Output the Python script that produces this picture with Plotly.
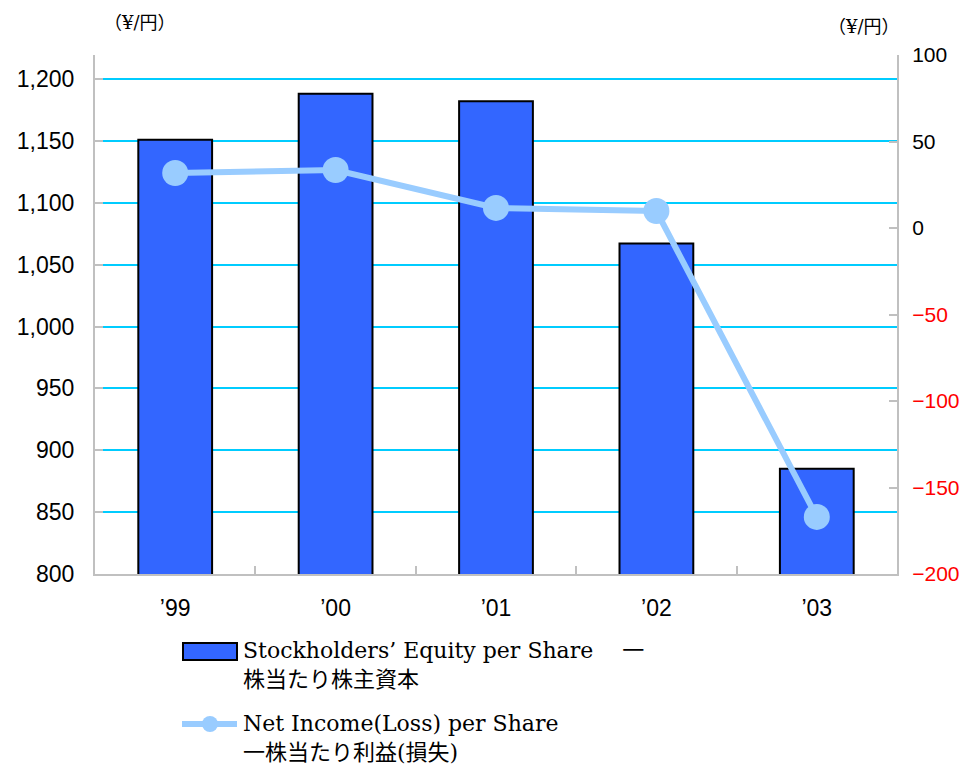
import plotly.graph_objects as go

years = ["’99", "’00", "’01", "’02", "’03"]
equity_per_share = [1151, 1188, 1182, 1067, 885]
net_income_per_share = [31.8, 33.5, 11.6, 9.8, -167]

right_ticks = [100, 50, 0, -50, -100, -150, -200]
right_labels = [str(v) if v >= 0 else f"<span style='color:#ff0000'>−{abs(v)}</span>" for v in right_ticks]

SERIF = "DejaVu Serif, Noto Sans CJK JP, serif"
SANS = "Liberation Sans, Arial, sans-serif"

fig = go.Figure()
fig.add_trace(go.Bar(
    x=years, y=equity_per_share, name="Stockholders’ Equity per Share",
    marker=dict(color="#3366ff", line=dict(color="#000000", width=2)),
    width=0.46, showlegend=False,
))
fig.add_trace(go.Scatter(
    x=years, y=net_income_per_share, yaxis="y2", mode="lines+markers",
    name="Net Income(Loss) per Share",
    line=dict(color="#99ccff", width=6),
    marker=dict(color="#99ccff", size=26),
    showlegend=False,
))

# the page body adds an 8px margin, so the figure is sized 8px smaller
fig.update_layout(
    width=965, height=757,
    margin=dict(l=87, r=76, t=47, b=191),
    paper_bgcolor="white", plot_bgcolor="white",
    font=dict(family=SANS, size=23, color="#000000"),
    xaxis=dict(
        showline=True, linecolor="#c0c0c0", linewidth=2,
        ticks="inside", ticklen=8, tickcolor="#c0c0c0", tickwidth=2,
        tickson="boundaries", ticklabelstandoff=12, automargin=False,
    ),
    yaxis=dict(
        range=[800, 1219.4], dtick=50, tick0=800, tickformat=",",
        showgrid=True, gridcolor="#00ccff", gridwidth=2,
        showline=True, linecolor="#c0c0c0", linewidth=2,
        ticks="inside", ticklen=8, tickcolor="#c0c0c0", tickwidth=2,
        ticklabelstandoff=14, zeroline=False, automargin=False,
    ),
    yaxis2=dict(
        range=[-200, 100], overlaying="y", side="right",
        tickvals=right_ticks, ticktext=right_labels,
        tickfont=dict(size=21),
        showgrid=False, zeroline=False,
        showline=True, linecolor="#c0c0c0", linewidth=2,
        ticks="inside", ticklen=8, tickcolor="#c0c0c0", tickwidth=2,
        ticklabelstandoff=9, automargin=False,
    ),
    bargap=0.54,
)

# unit labels
fig.add_annotation(text="（¥/円）", x=(140 - 95) / 802, y=(574 - 22) / 519, xref="paper", yref="paper",
                   xanchor="center", yanchor="middle", showarrow=False,
                   font=dict(family=SERIF, size=18))
fig.add_annotation(text="（¥/円）", x=(864 - 95) / 802, y=(574 - 27) / 519, xref="paper", yref="paper",
                   xanchor="center", yanchor="middle", showarrow=False,
                   font=dict(family=SERIF, size=18))

# legend, drawn by hand so the symbols match the original
fig.add_shape(type="rect", xref="paper", yref="paper",
              x0=(183 - 95) / 802, x1=(237 - 95) / 802,
              y0=(574 - 660) / 519, y1=(574 - 643) / 519,
              fillcolor="#3366ff", line=dict(color="#000000", width=2))
fig.add_shape(type="line", xref="paper", yref="paper",
              x0=(182 - 95) / 802, x1=(237 - 95) / 802,
              y0=(574 - 724) / 519, y1=(574 - 724) / 519,
              line=dict(color="#99ccff", width=6))
fig.add_shape(type="circle", xref="paper", yref="paper",
              x0=(202 - 95) / 802, x1=(218 - 95) / 802,
              y0=(574 - 732) / 519, y1=(574 - 716) / 519,
              fillcolor="#99ccff", line=dict(color="#99ccff", width=0))
fig.add_annotation(text="Stockholders’ Equity per Share　 一<br>株当たり株主資本",
                   x=(241 - 95) / 802, y=(574 - 636) / 519, xref="paper", yref="paper",
                   xanchor="left", yanchor="top", align="left", showarrow=False,
                   font=dict(family=SERIF, size=22))
fig.add_annotation(text="Net Income(Loss) per Share<br>一株当たり利益(損失)",
                   x=(241 - 95) / 802, y=(574 - 709) / 519, xref="paper", yref="paper",
                   xanchor="left", yanchor="top", align="left", showarrow=False,
                   font=dict(family=SERIF, size=22))

fig.write_html("out.html")
